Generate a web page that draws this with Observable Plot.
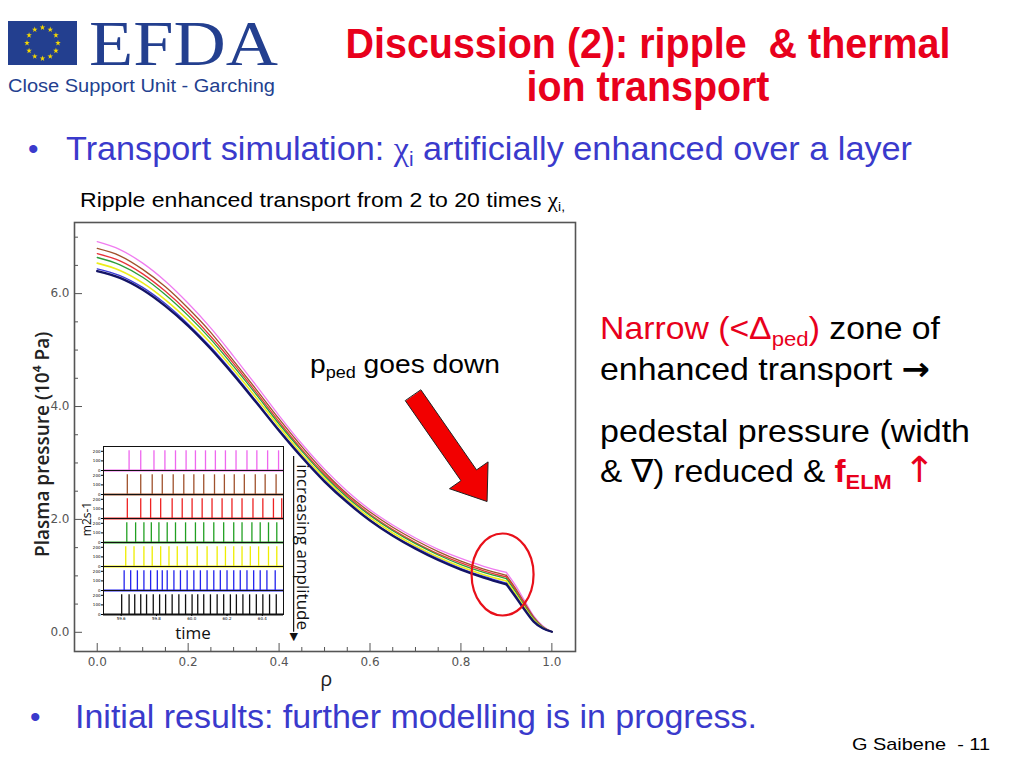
<!DOCTYPE html>
<html><head><meta charset="utf-8">
<script src="https://cdn.jsdelivr.net/npm/d3@7"></script>
<script src="https://cdn.jsdelivr.net/npm/@observablehq/plot@0.6"></script>
<style>
html,body{margin:0;padding:0;background:#fff;width:1024px;height:768px;overflow:hidden;}
#slide{position:absolute;left:0;top:0;}
#main{position:absolute;left:0;top:200px;}
#inset{position:absolute;left:80px;top:440px;}
#over{position:absolute;left:0;top:0;pointer-events:none;}
text{white-space:pre;}
</style></head><body>
<svg id="slide" width="1024" height="768" font-family="Liberation Sans, Arial, sans-serif">
  <rect x="0" y="0" width="1024" height="768" fill="#fff"/>
  <rect x="8" y="21" width="69" height="44" fill="#233f8f"/>
  <g id="stars" fill="#f5d800"></g>
  <text x="89" y="65" font-family="Liberation Serif, serif" font-size="64" fill="#233f8f" textLength="189" lengthAdjust="spacingAndGlyphs">EFDA</text>
  <text x="8" y="92" font-size="18" fill="#233f8f" textLength="267" lengthAdjust="spacingAndGlyphs">Close Support Unit - Garching</text>

  <text x="648" y="58" text-anchor="middle" font-size="42" font-weight="bold" fill="#e8001c" textLength="605" lengthAdjust="spacingAndGlyphs">Discussion (2): ripple  &amp; thermal</text>
  <text x="648" y="101" text-anchor="middle" font-size="42" font-weight="bold" fill="#e8001c" textLength="243" lengthAdjust="spacingAndGlyphs">ion transport</text>

  <text x="28" y="159" font-size="30" fill="#3a3acc">•</text>
  <text x="66" y="160" font-size="33" fill="#3a3acc" textLength="846" lengthAdjust="spacingAndGlyphs">Transport simulation: <tspan font-family="Liberation Serif, serif">χ</tspan><tspan font-size="20" dy="6">i</tspan><tspan dy="-6"> artificially enhanced over a layer</tspan></text>

  <text x="80" y="207" font-size="20" fill="#000" textLength="485" lengthAdjust="spacingAndGlyphs">Ripple enhanced transport from 2 to 20 times <tspan font-family="Liberation Serif, serif">χ</tspan><tspan font-size="12" dy="4">i,</tspan></text>

  <text x="310" y="373" font-size="25" fill="#000" textLength="190" lengthAdjust="spacingAndGlyphs">p<tspan font-size="16" dy="5">ped</tspan><tspan dy="-5"> goes down</tspan></text>

  <text x="600" y="339" font-size="32" fill="#000" textLength="340" lengthAdjust="spacingAndGlyphs"><tspan fill="#e8001c">Narrow (&lt;Δ</tspan><tspan fill="#e8001c" font-size="21" dy="7">ped</tspan><tspan fill="#e8001c" dy="-7">)</tspan> zone of</text>
  <text x="600" y="380" font-size="32" fill="#000" textLength="330" lengthAdjust="spacingAndGlyphs">enhanced transport <tspan font-weight="bold" font-family="DejaVu Sans, sans-serif">→</tspan></text>
  <text x="600" y="442" font-size="32" fill="#000" textLength="370" lengthAdjust="spacingAndGlyphs">pedestal pressure (width</text>
  <text x="600" y="482" font-size="32" fill="#000" textLength="335" lengthAdjust="spacingAndGlyphs">&amp; ∇) reduced &amp; <tspan fill="#e8001c" font-weight="bold">f</tspan><tspan fill="#e8001c" font-weight="bold" font-size="21" dy="7">ELM</tspan><tspan fill="#e8001c" dy="-7" font-size="36" font-family="DejaVu Sans, sans-serif"> ↑</tspan></text>

  <text x="30" y="727" font-size="30" fill="#3a3acc">•</text>
  <text x="75" y="728" font-size="34" fill="#3a3acc" textLength="682" lengthAdjust="spacingAndGlyphs">Initial results: further modelling is in progress.</text>
  <text x="852" y="750" font-size="17" fill="#000" textLength="138" lengthAdjust="spacingAndGlyphs">G Saibene  - 11</text>
</svg>
<div id="main"></div>
<div id="inset"></div>
<svg id="over" width="1024" height="768" font-family="Open Sans, sans-serif">
  <text transform="translate(91,519) rotate(-90)" text-anchor="middle" font-size="12" fill="#111">m2s-1</text>
  <text x="193" y="639" text-anchor="middle" font-size="17" fill="#111">time</text>
</svg>
<script>
// ---------- main chart data ----------
const rho = [0,0.05,0.10,0.15,0.20,0.25,0.30,0.35,0.40,0.45,0.50,0.55,0.60,0.65,0.70,0.75,0.80,0.85,0.90,0.92,0.94,0.96,0.98,1.00];
const pPink   = [6.92,6.78,6.54,6.22,5.83,5.39,4.89,4.37,3.84,3.34,2.89,2.50,2.17,1.90,1.67,1.47,1.31,1.17,1.06,0.83,0.56,0.29,0.11,0.01];
const pBrown  = [6.80,6.67,6.43,6.12,5.74,5.31,4.81,4.30,3.78,3.29,2.84,2.45,2.13,1.86,1.63,1.43,1.26,1.12,1.01,0.78,0.52,0.27,0.10,0.01];
const pRed    = [6.71,6.58,6.35,6.04,5.67,5.24,4.76,4.25,3.73,3.24,2.80,2.42,2.09,1.82,1.59,1.39,1.23,1.09,0.98,0.75,0.50,0.25,0.09,0.01];
const pGreen  = [6.64,6.51,6.29,5.98,5.61,5.19,4.71,4.21,3.69,3.21,2.77,2.39,2.07,1.80,1.57,1.37,1.20,1.06,0.95,0.72,0.47,0.24,0.09,0.01];
const pYellow = [6.54,6.41,6.19,5.89,5.53,5.12,4.65,4.15,3.64,3.16,2.73,2.35,2.03,1.76,1.53,1.33,1.16,1.02,0.91,0.68,0.44,0.22,0.08,0.01];
const pBlue   = [6.44,6.32,6.11,5.82,5.46,5.05,4.59,4.09,3.59,3.12,2.69,2.32,1.99,1.72,1.50,1.30,1.13,0.99,0.87,0.65,0.41,0.20,0.07,0.01];
const pNavy   = [6.40,6.28,6.07,5.78,5.43,5.02,4.56,4.07,3.57,3.10,2.67,2.30,1.98,1.71,1.48,1.28,1.11,0.97,0.85,0.63,0.40,0.19,0.07,0.01];
const kinkRho = 0.90;
const seriesNames  = ["pink","brown","red","green","yellow","blue","navy"];
const seriesColors = ["#f07cf0","#a0522d","#e8333a","#2e9e3a","#eded1a","#3b3bd6","#141466"];
const seriesWidths = [1.3,1.3,1.3,1.3,1.6,1.3,2.3];
const seriesValues = [pPink,pBrown,pRed,pGreen,pYellow,pBlue,pNavy];

const xMajor = [0,0.2,0.4,0.6,0.8,1.0];
const xMinor = [0.05,0.1,0.15,0.25,0.3,0.35,0.45,0.5,0.55,0.65,0.7,0.75,0.85,0.9,0.95];
const yMajor = [0,2,4,6];
const yMinor = [0.5,1,1.5,2.5,3,3.5,4.5,5,5.5,6.5,7];

// annotations (data coordinates)
const arrowX = [0.7123,0.8344,0.8597,0.8575,0.7748,0.8001,0.6780];
const arrowY = [4.291,2.877,3.019,2.317,2.544,2.686,4.099];
const ringCenter = [0.8916, 1.024];
const ampArrow = {x: 0.432, y1: 3.114, y2: 0.0, tipY: -0.075};
const ampText = {x: 0.4516, y: 1.51, text: "increasing amplitude"};
const yLabel = {x: -0.05, y: 3.33, text: "Plasma pressure (10⁴ Pa)"};
const xLabel = {x: 0.504, text: "ρ"};

// ---------- inset data ----------
const panelNames  = ["pink","brown","red","green","yellow","blue","black"];
const panelColors = ["#ee66ee","#a0522d","#ee2222","#22a022","#eeee00","#2222ee","#111111"];
const spikePeak   = [205,205,205,205,205,205,205];
const tPink   = [59.645,59.711,59.786,59.848,59.908,59.968,60.021,60.078,60.134,60.191,60.251,60.313,60.369,60.430,60.492];
const tBrown  = [59.635,59.711,59.776,59.833,59.895,59.955,60.012,60.068,60.129,60.185,60.241,60.298,60.360,60.416,60.478];
const tRed    = [59.635,59.711,59.767,59.824,59.889,59.946,60.002,60.059,60.115,60.172,60.228,60.285,60.347,60.403,60.463,60.510];
const tGreen  = [59.632,59.682,59.729,59.771,59.814,59.861,59.908,59.965,60.021,60.068,60.125,60.181,60.238,60.285,60.341,60.388,60.435,60.482];
const tYellow = [59.626,59.673,59.729,59.776,59.824,59.871,59.918,59.974,60.031,60.087,60.144,60.191,60.238,60.285,60.332,60.379,60.435,60.482];
const tBlue   = [59.617,59.654,59.692,59.729,59.767,59.805,59.833,59.861,59.899,59.936,59.974,60.012,60.049,60.087,60.125,60.162,60.200,60.238,60.275,60.313,60.351,60.388,60.426,60.473];
const tBlack  = [59.603,59.645,59.677,59.711,59.744,59.782,59.818,59.852,59.889,59.927,59.965,60.002,60.034,60.068,60.106,60.144,60.181,60.219,60.253,60.290,60.328,60.366,60.403,60.441,60.479];
const spikeTimes = [tPink,tBrown,tRed,tGreen,tYellow,tBlue,tBlack];
const insetXTicks = [59.6,59.8,60.0,60.2,60.4];
const insetYTicks = [0,100,200];

// ---------- logo stars ----------
{
  const g = d3.select("#stars");
  const star = d3.symbol(d3.symbolStar, 10)();
  for (let i = 0; i < 12; i++) {
    const a = i * Math.PI / 6;
    g.append("path").attr("d", star)
     .attr("transform", `translate(${42.5 + 15.5 * Math.sin(a)},${43 - 15.5 * Math.cos(a)})`);
  }
}

// ---------- main chart ----------
const table = [];
seriesValues.forEach((vals, k) => vals.forEach((v, i) =>
  table.push({rho: rho[i], p: v, s: seriesNames[k]})));
const arrowPoly = arrowX.map((x, i) => ({x, y: arrowY[i]}));

const ellipseSymbol = {
  draw(ctx) {
    const rx = 31, ry = 41, k = 0.5523;
    ctx.moveTo(rx, 0);
    ctx.bezierCurveTo(rx, k * ry, k * rx, ry, 0, ry);
    ctx.bezierCurveTo(-k * rx, ry, -rx, k * ry, -rx, 0);
    ctx.bezierCurveTo(-rx, -k * ry, -k * rx, -ry, 0, -ry);
    ctx.bezierCurveTo(k * rx, -ry, rx, -k * ry, rx, 0);
    ctx.closePath();
  }
};

// each profile: smooth core part up to the pedestal kink, then the steep edge part
const lineMarks = seriesNames.flatMap((name, k) => {
  const rows = table.filter(d => d.s === name);
  const opts = {x: "rho", y: "p", stroke: seriesColors[k], strokeWidth: seriesWidths[k], curve: "monotone-x"};
  return [
    Plot.line(rows.filter(d => d.rho <= kinkRho), opts),
    Plot.line(rows.filter(d => d.rho >= kinkRho), opts)
  ];
});

const main = Plot.plot({
  width: 600, height: 500,
  marginLeft: 74, marginRight: 25, marginTop: 22, marginBottom: 49,
  x: {domain: [-0.05, 1.052]},
  y: {domain: [-0.34, 7.26]},
  style: {background: "transparent", overflow: "visible", fontFamily: "DejaVu Sans, sans-serif"},
  marks: [
    Plot.axisX(xMajor, {tickSize: 8, dy: -8, tickFormat: () => "", color: "#555", label: null}),
    Plot.axisX(xMinor, {tickSize: 4, dy: -4, tickFormat: () => "", color: "#555", label: null}),
    Plot.axisY(yMajor, {tickSize: 8, dx: 8, tickFormat: () => "", color: "#555", label: null}),
    Plot.axisY(yMinor, {tickSize: 4, dx: 4, tickFormat: () => "", color: "#555", label: null}),
    Plot.axisX(xMajor, {tickSize: 0, tickPadding: 6, tickFormat: d3.format(".1f"), fontSize: 12, color: "#555", label: null}),
    Plot.axisY(yMajor, {tickSize: 0, tickPadding: 5, tickFormat: d3.format(".1f"), fontSize: 12, color: "#555", label: null}),
    Plot.frame({stroke: "#555", strokeWidth: 1.6}),
    ...lineMarks,
    Plot.line(arrowPoly, {x: "x", y: "y", curve: "linear-closed", fill: "#f20000", stroke: "#222", strokeWidth: 1}),
    Plot.dot([ringCenter], {x: d => d[0], y: d => d[1], symbol: ellipseSymbol, r: 5, fill: "none", stroke: "#e8101a", strokeWidth: 2.2}),
    Plot.ruleX([ampArrow], {x: "x", y1: "y1", y2: "y2", stroke: "#111", strokeWidth: 1.2}),
    Plot.text([ampArrow], {x: "x", y: "tipY", text: () => "▼", fontSize: 11, fill: "#111"}),
    Plot.text([ampText], {x: "x", y: "y", text: "text", rotate: 90, fontSize: 17, fill: "#111", fontFamily: "Open Sans, sans-serif"}),
    Plot.text([yLabel], {x: "x", y: "y", text: "text", dx: -32, rotate: -90, fontSize: 19, fontWeight: 600, fill: "#222", fontFamily: "Open Sans, sans-serif"}),
    Plot.text([xLabel], {x: "x", text: "text", frameAnchor: "bottom", dy: 34, fontSize: 20, fill: "#222", fontFamily: "Open Sans, sans-serif"})
  ]
});
document.getElementById("main").append(main);

// ---------- inset chart ----------
const insetRows = [];
panelNames.forEach((n, k) => spikeTimes[k].forEach(t =>
  insetRows.push({panel: n, t, h: spikePeak[k], color: panelColors[k]})));
const baseRows = panelNames.map((n, k) => ({panel: n, color: panelColors[k]}));

const inset = Plot.plot({
  width: 210, height: 200,
  marginLeft: 23, marginRight: 7, marginTop: 5, marginBottom: 25,
  x: {domain: [59.5, 60.52]},
  y: {domain: [0, 250]},
  fy: {domain: panelNames, padding: 0, axis: null},
  color: {type: "identity"},
  style: {background: "transparent", overflow: "visible", fontFamily: "DejaVu Sans, sans-serif"},
  marks: [
    Plot.frame({fill: "white", stroke: "none"}),
    Plot.ruleX(insetRows, {x: "t", y1: 0, y2: "h", fy: "panel", stroke: "color", strokeWidth: 1.3}),
    Plot.ruleY(baseRows, {y: 0, fy: "panel", stroke: "color", strokeWidth: 2}),
    Plot.frame({stroke: "#111", strokeWidth: 1}),
    Plot.axisY(insetYTicks, {tickSize: 2, tickPadding: 1, fontSize: 4, label: null}),
    Plot.axisX(insetXTicks, {tickSize: 2, tickPadding: 1, fontSize: 4, label: null, tickFormat: d3.format(".1f")})
  ]
});
document.getElementById("inset").append(inset);
</script>
</body></html>
